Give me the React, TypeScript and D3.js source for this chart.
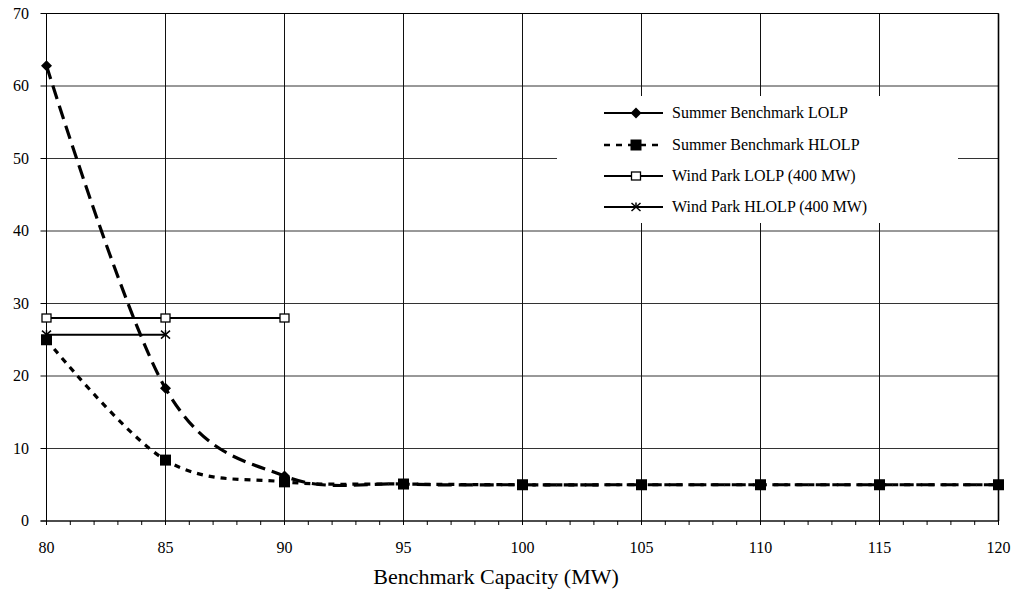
import React from "react";
import * as d3 from "d3";

const xValues = [80, 85, 90, 95, 100, 105, 110, 115, 120];
const summerLOLP = [62.8, 18.3, 6.2, 5.1, 5.0, 5.0, 5.0, 5.0, 5.0];
const summerHLOLP = [25.0, 8.4, 5.4, 5.1, 5.0, 5.0, 5.0, 5.0, 5.0];
const windX = [80, 85, 90];
const windLOLP = [28, 28, 28];
const windHX = [80, 85];
const windHLOLP = [25.7, 25.7];
const xTicks = [80, 85, 90, 95, 100, 105, 110, 115, 120];
const yTicks = [0, 10, 20, 30, 40, 50, 60, 70];
const legendLabels = [
  "Summer Benchmark LOLP",
  "Summer Benchmark HLOLP",
  "Wind Park LOLP (400 MW)",
  "Wind Park HLOLP (400 MW)",
];

const W = 1011;
const H = 592;
const left = 46.5;
const right = 998.5;
const top = 13.5;
const bottom = 521;
const font = "'Times New Roman', 'Liberation Serif', Times, serif";

export default function App() {
  const x = d3.scaleLinear().domain([80, 120]).range([left, right]);
  const y = d3.scaleLinear().domain([0, 70]).range([bottom, top]);
  const smooth = d3
    .line<[number, number]>()
    .x((d) => x(d[0]))
    .y((d) => y(d[1]))
    .curve(d3.curveCardinal.tension(0));
  const straight = d3
    .line<[number, number]>()
    .x((d) => x(d[0]))
    .y((d) => y(d[1]));

  const lolpPts = xValues.map((v, i) => [v, summerLOLP[i]] as [number, number]);
  const hlolpPts = xValues.map((v, i) => [v, summerHLOLP[i]] as [number, number]);
  const wPts = windX.map((v, i) => [v, windLOLP[i]] as [number, number]);
  const whPts = windHX.map((v, i) => [v, windHLOLP[i]] as [number, number]);

  const minorTicks = d3.range(80, 121, 1);

  const diamond = (cx: number, cy: number, k: string) => (
    <path key={k} d={`M${cx},${cy - 5.5}L${cx + 5.5},${cy}L${cx},${cy + 5.5}L${cx - 5.5},${cy}Z`} fill="#000" />
  );
  const fsq = (cx: number, cy: number, k: string) => (
    <rect key={k} x={cx - 5.5} y={cy - 5.5} width={11} height={11} fill="#000" />
  );
  const osq = (cx: number, cy: number, k: string) => (
    <rect key={k} x={cx - 4.5} y={cy - 4} width={9} height={8} fill="#fff" stroke="#000" strokeWidth={1.3} />
  );
  const star = (cx: number, cy: number, k: string) => (
    <g key={k} stroke="#000" strokeWidth={1.5}>
      <line x1={cx - 4.5} y1={cy - 4} x2={cx + 4.5} y2={cy + 4} />
      <line x1={cx - 4.5} y1={cy + 4} x2={cx + 4.5} y2={cy - 4} />
      <line x1={cx} y1={cy - 4.5} x2={cx} y2={cy} />
    </g>
  );

  const legX1 = 604;
  const legX2 = 663;
  const legMid = 636;
  const legY = [113, 145, 176, 207];

  return (
    <svg width={W} height={H} style={{ position: "absolute", left: 0, top: 0, background: "#fff" }}>
      <rect width={W} height={H} fill="#fff" />
      {yTicks.map((t) => (
        <line key={"gy" + t} x1={left} x2={right} y1={y(t)} y2={y(t)} stroke="#333" strokeWidth={1} />
      ))}
      {xTicks.map((t) => (
        <line key={"gx" + t} x1={x(t)} x2={x(t)} y1={top} y2={bottom} stroke="#111" strokeWidth={1} />
      ))}
      <line x1={right} x2={right} y1={top} y2={bottom} stroke="#000" strokeWidth={1.6} />
      <line x1={left} x2={right} y1={top} y2={top} stroke="#000" strokeWidth={1} />
      <line x1={left} x2={left} y1={top} y2={bottom} stroke="#000" strokeWidth={1} />
      <line x1={left - 6} x2={right} y1={bottom} y2={bottom} stroke="#000" strokeWidth={1} />
      {yTicks.map((t) => (
        <line key={"ty" + t} x1={left - 6} x2={left} y1={y(t)} y2={y(t)} stroke="#000" />
      ))}
      {minorTicks.map((t) => (
        <line key={"tx" + t} x1={x(t)} x2={x(t)} y1={bottom} y2={bottom + 4} stroke="#000" />
      ))}
      {yTicks.map((t) => (
        <text key={"ly" + t} x={29} y={y(t)} dy="0.34em" textAnchor="end" fontFamily={font} fontSize={16}>
          {t}
        </text>
      ))}
      {xTicks.map((t) => (
        <text key={"lx" + t} x={x(t)} y={553} textAnchor="middle" fontFamily={font} fontSize={16}>
          {t}
        </text>
      ))}
      <text x={496} y={584} textAnchor="middle" fontFamily={font} fontSize={22}>
        Benchmark Capacity (MW)
      </text>

      <path d={smooth(lolpPts) || ""} fill="none" stroke="#000" strokeWidth={3.2} strokeDasharray="14,7" />
      {lolpPts.map((p, i) => diamond(x(p[0]), y(p[1]), "d" + i))}
      <path d={smooth(hlolpPts) || ""} fill="none" stroke="#000" strokeWidth={3.2} strokeDasharray="6,6" />
      {hlolpPts.map((p, i) => fsq(x(p[0]), y(p[1]), "s" + i))}
      <path d={straight(wPts) || ""} fill="none" stroke="#000" strokeWidth={2} />
      {wPts.map((p, i) => osq(x(p[0]), y(p[1]), "o" + i))}
      <path d={straight(whPts) || ""} fill="none" stroke="#000" strokeWidth={2} />
      {whPts.map((p, i) => star(x(p[0]), y(p[1]), "a" + i))}

      <rect x={557} y={96} width={401} height={127} fill="#fff" />
      <line x1={legX1} x2={legX2} y1={legY[0]} y2={legY[0]} stroke="#000" strokeWidth={2} />
      {diamond(legMid, legY[0], "ld")}
      <line x1={legX1} x2={legX2} y1={legY[1]} y2={legY[1]} stroke="#000" strokeWidth={2.5} strokeDasharray="6,6" />
      {fsq(legMid, legY[1], "ls")}
      <line x1={legX1} x2={legX2} y1={legY[2]} y2={legY[2]} stroke="#000" strokeWidth={2} />
      {osq(legMid, legY[2], "lo")}
      <line x1={legX1} x2={legX2} y1={legY[3]} y2={legY[3]} stroke="#000" strokeWidth={2} />
      {star(legMid, legY[3], "la")}
      {legendLabels.map((l, i) => (
        <text key={l} x={672} y={legY[i]} dy="0.34em" fontFamily={font} fontSize={16}>
          {l}
        </text>
      ))}
    </svg>
  );
}
